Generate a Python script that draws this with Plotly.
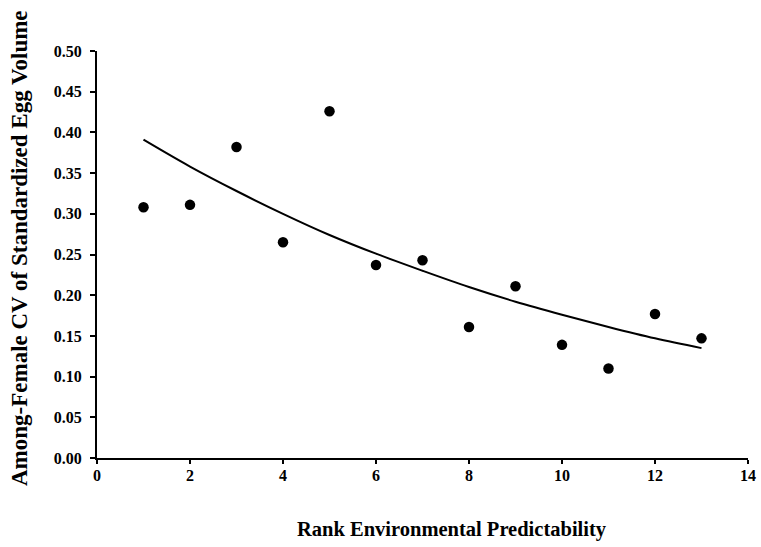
import plotly.graph_objects as go

rank = [1, 2, 3, 4, 5, 6, 7, 8, 9, 10, 11, 12, 13]
cv_values = [0.308, 0.311, 0.382, 0.265, 0.426, 0.237, 0.243, 0.161, 0.211, 0.139, 0.110, 0.177, 0.147]
trend_values = [0.391, 0.358, 0.328, 0.300, 0.274, 0.251, 0.230, 0.210, 0.192, 0.176, 0.161, 0.147, 0.135]
x_ticks = [0, 2, 4, 6, 8, 10, 12, 14]
y_ticks = [0.00, 0.05, 0.10, 0.15, 0.20, 0.25, 0.30, 0.35, 0.40, 0.45, 0.50]
y_tick_labels = ["%.2f" % v for v in y_ticks]

W, H = 761, 547
L, R, T, B = 97, 13, 51, 89
FONT = "Liberation Serif"

fig = go.Figure()
fig.add_trace(go.Scatter(x=rank, y=trend_values, mode="lines", line=dict(color="black", width=2, shape="spline"),
                         showlegend=False, hoverinfo="skip"))
fig.add_trace(go.Scatter(x=rank, y=cv_values, mode="markers", marker=dict(color="black", size=10.5),
                         showlegend=False))

fig.update_layout(
    width=W, height=H,
    margin=dict(l=L, r=R, t=T, b=B, pad=0),
    paper_bgcolor="white", plot_bgcolor="white",
    font=dict(family=FONT, color="black"),
    xaxis=dict(range=[0, 14], tickvals=x_ticks, ticktext=[str(v) for v in x_ticks],
               showgrid=False, zeroline=False, showline=True, linecolor="black", linewidth=2,
               ticks="outside", ticklen=4, tickwidth=1.5, tickcolor="black", automargin=False,
               ticklabelstandoff=-2,
               tickfont=dict(family=FONT, size=16, color="black", weight="bold")),
    yaxis=dict(range=[0, 0.5], tickvals=y_ticks, ticktext=y_tick_labels,
               showgrid=False, zeroline=False, showline=True, linecolor="black", linewidth=2,
               ticks="outside", ticklen=5, tickwidth=1.5, tickcolor="black", automargin=False,
               ticklabelstandoff=5,
               tickfont=dict(family=FONT, size=16, color="black", weight="bold")),
    annotations=[
        dict(text="<b>Rank Environmental Predictability</b>", xref="paper", yref="paper",
             x=(452 - L) / (W - L - R), y=-(529 - (H - B)) / (H - T - B),
             xanchor="center", yanchor="middle", showarrow=False,
             font=dict(family=FONT, size=20.5, color="black")),
        dict(text="<b>Among-Female CV of Standardized Egg Volume</b>", xref="paper", yref="paper",
             x=-(L - 20) / (W - L - R), y=((H - B) - 248) / (H - T - B),
             xanchor="center", yanchor="middle", showarrow=False, textangle=-90,
             font=dict(family=FONT, size=23, color="black")),
    ],
)

fig.write_html("out.html")
